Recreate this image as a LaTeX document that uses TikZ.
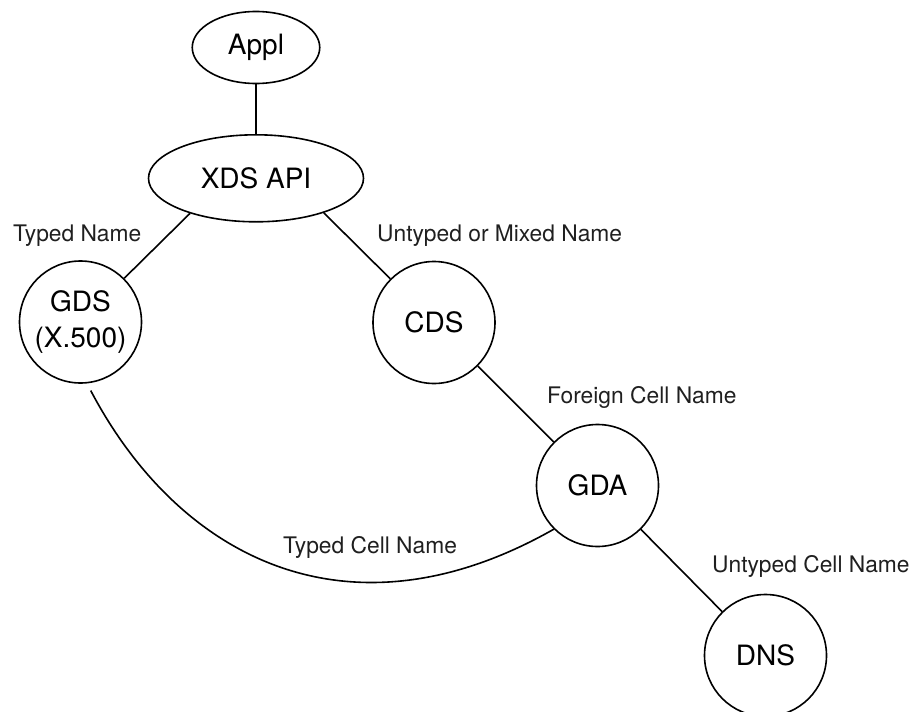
\documentclass[tikz,border=0pt]{standalone}
\usepackage{fontspec}
\setmainfont{TeX Gyre Heros}
\usetikzlibrary{shapes.geometric}
\begin{document}
\begin{tikzpicture}[x=1pt,y=-1pt,
  conn/.style={line width=1.6pt},
  ell/.style={ellipse, draw, line width=1.6pt, inner sep=0pt, font=\fontsize{28}{36}\selectfont},
  circ/.style={circle, draw, line width=1.6pt, minimum size=122pt, inner sep=0pt, align=center, font=\fontsize{28}{36}\selectfont},
  lbl/.style={inner sep=0pt, anchor=base west, text=black!88, font=\fontsize{22.8}{27}\selectfont}]
\useasboundingbox (0,0) rectangle (913,712);
\node[ell, minimum width=127.5pt, minimum height=72pt] (appl) at (256,47.5) {Appl};
\node[ell, minimum width=215pt, minimum height=87pt] (xds) at (256,178.3) {XDS API};
\node[circ] (gds) at (80.5,322) {GDS\\(X.500)};
\node[circ] (cds) at (434,322.5) {CDS};
\node[circ] (gda) at (597.5,485.5) {GDA};
\node[circ] (dns) at (765.5,655.5) {DNS};
\draw[conn] (appl) -- (xds);
\draw[conn] (xds.208) -- (gds.45);
\draw[conn] (xds.333) -- (cds.135);
\draw[conn] (cds) -- (gda);
\draw[conn] (gda) -- (dns);
\draw[conn, shorten <=8pt] (gds.-84) .. controls (180,560) and (350,645) .. (gda.-135);
\node[lbl] (l1) at (13,241.7) {Typed Name};
\node[lbl] (l2) at (377,241.7) {Untyped or Mixed Name};
\node[lbl] (l3) at (547,403.3) {Foreign Cell Name};
\node[lbl] (l4) at (712,572.3) {Untyped Cell Name};
\node[lbl] (l5) at (283,553.3) {Typed Cell Name};
\end{tikzpicture}
\end{document}
